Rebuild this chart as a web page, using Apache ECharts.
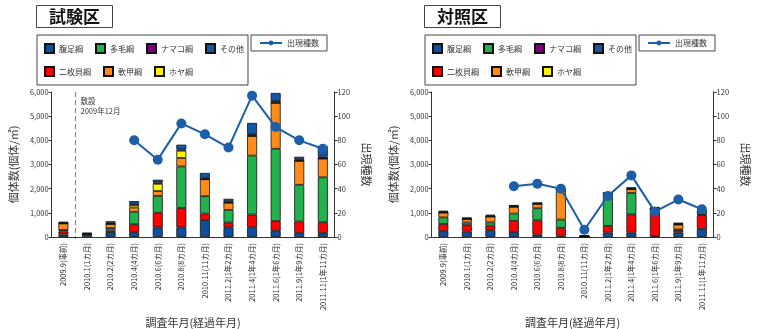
<!DOCTYPE html>
<html>
<head>
<meta charset="utf-8">
<script src="https://cdn.jsdelivr.net/npm/echarts@6/dist/echarts.min.js"></script>
<style>
  body { margin: 0; background: #fff; }
  #left, #right { position: absolute; top: 0; height: 329px; }
  #left { left: 0; width: 380px; }
  #right { left: 380px; width: 379px; }
</style>
</head>
<body>
<div id="left"></div>
<div id="right"></div>
<script>
var categories = ['2009.9(事前)', '2010.1(1カ月)', '2010.2(2カ月)', '2010.4(4カ月)', '2010.6(6カ月)', '2010.8(8カ月)',
  '2010.11(11カ月)', '2011.2(1年2カ月)', '2011.4(1年4カ月)', '2011.6(1年6カ月)', '2011.9(1年9カ月)', '2011.11(1年11カ月)'];

// 試験区
var testFukusoku = [100, 110, 200, 200, 400, 400, 700, 400, 400, 260, 160, 160];
var testNimaigai = [130, 0, 70, 330, 600, 800, 270, 200, 530, 400, 480, 450];
var testTamou = [60, 0, 100, 515, 700, 1720, 720, 520, 2440, 2990, 1520, 1860];
var testNankou = [270, 0, 170, 175, 200, 350, 700, 300, 810, 1900, 990, 775];
var testHoya = [0, 0, 0, 95, 300, 300, 0, 0, 0, 0, 0, 0];
var testNamako = [30, 30, 50, 60, 60, 50, 60, 60, 80, 80, 70, 80];
var testOther = [40, 40, 60, 110, 110, 200, 200, 100, 460, 330, 100, 430];
var testSpecies = [null, null, null, 80, 64, 94, 85, 74, 117, 91, 80, 73];

// 対照区
var ctrlFukusoku = [240, 220, 280, 200, 100, 60, 20, 180, 180, 20, 180, 330];
var ctrlNimaigai = [300, 270, 190, 470, 590, 320, 0, 280, 760, 1150, 100, 580];
var ctrlTamou = [270, 110, 135, 300, 500, 340, 0, 1330, 880, 0, 30, 30];
var ctrlNankou = [200, 140, 240, 280, 180, 1250, 0, 0, 160, 0, 200, 100];
var ctrlHoya = [0, 0, 0, 0, 0, 0, 0, 0, 0, 0, 20, 0];
var ctrlNamako = [40, 40, 40, 40, 30, 0, 30, 30, 40, 40, 30, 30];
var ctrlOther = [30, 20, 30, 30, 20, 20, 20, 20, 30, 30, 20, 30];
var ctrlSpecies = [null, null, null, 42, 44, 40, 6, 34, 51, 21, 31, 23];

var leftTicks = [0, 1000, 2000, 3000, 4000, 5000, 6000];
var rightTicks = [0, 20, 40, 60, 80, 100, 120];

var FONT = '"Noto Sans CJK JP", sans-serif';
var colors = {
  '腹足綱': '#0d4f9e', '二枚貝綱': '#ff0000', '多毛綱': '#22b14c', '軟甲綱': '#ff8c1a',
  'ホヤ綱': '#fff200', 'ナマコ綱': '#7f007f', 'その他': '#1157a6'
};

function comma(v) {
  return String(v).replace(/\B(?=(\d{3})+(?!\d))/g, ',');
}

function bar(name, data) {
  return {
    name: name, type: 'bar', stack: 'a', barWidth: 10, data: data,
    itemStyle: { color: colors[name], borderColor: '#111', borderWidth: 0.8 }
  };
}

function makeOption(title, gridLeft, boxLeft, lineLegLeft, d) {
  return {
    animation: false,
    textStyle: { fontFamily: FONT },
    title: {
      text: title, left: boxLeft - 1, top: 5,
      padding: [3, 13, 3, 13], borderColor: '#444', borderWidth: 1,
      textStyle: { fontSize: 17, fontWeight: 'bold', color: '#111', fontFamily: FONT }
    },
    legend: [{
      data: ['腹足綱', '多毛綱', 'ナマコ綱', 'その他', '二枚貝綱', '軟甲綱', 'ホヤ綱'],
      left: boxLeft, top: 35, width: 211, padding: [8, 4, 8, 7],
      borderColor: '#444', borderWidth: 1, itemGap: 12,
      itemWidth: 9, itemHeight: 9, icon: 'rect',
      textStyle: { fontSize: 8, color: '#333', fontFamily: FONT }
    }, {
      data: ['出現種数'], left: lineLegLeft, top: 35,
      padding: [4, 8, 4, 8], borderColor: '#444', borderWidth: 1,
      itemWidth: 22, itemHeight: 6,
      textStyle: { fontSize: 8, color: '#333', fontFamily: FONT }
    }],
    grid: { left: gridLeft, width: 306, top: 92, bottom: 90 },
    xAxis: {
      type: 'category', data: categories,
      name: '調査年月(経過年月)', nameLocation: 'middle', nameGap: 80,
      nameTextStyle: { fontSize: 11, color: '#333', fontFamily: FONT },
      axisLine: { lineStyle: { color: '#333' } },
      axisTick: { alignWithLabel: false, length: 4, lineStyle: { color: '#333' } },
      axisLabel: { rotate: 90, fontSize: 7.5, color: '#333', margin: 6, interval: 0, fontFamily: FONT }
    },
    yAxis: [{
      type: 'value', min: leftTicks[0], max: leftTicks[leftTicks.length - 1], interval: 1000,
      name: '個体数(個体/㎡)', nameLocation: 'middle', nameRotate: 90, nameGap: 23,
      nameTextStyle: { fontSize: 11, color: '#333', fontFamily: FONT },
      axisLine: { show: true, lineStyle: { color: '#333' } },
      axisTick: { show: true, length: 3, lineStyle: { color: '#333' } },
      splitLine: { show: false },
      axisLabel: { fontSize: 7.5, color: '#333', margin: 3, formatter: comma }
    }, {
      type: 'value', min: rightTicks[0], max: rightTicks[rightTicks.length - 1], interval: 20,
      name: '出現種数', nameLocation: 'middle', nameRotate: -90, nameGap: 24,
      nameTextStyle: { fontSize: 11, color: '#333', fontFamily: FONT },
      axisLine: { show: true, lineStyle: { color: '#333' } },
      axisTick: { show: true, length: 3, lineStyle: { color: '#333' } },
      splitLine: { show: false },
      axisLabel: { fontSize: 7.5, color: '#333', margin: 3 }
    }],
    series: [
      bar('腹足綱', d[0]), bar('二枚貝綱', d[1]), bar('多毛綱', d[2]), bar('軟甲綱', d[3]),
      bar('ホヤ綱', d[4]), bar('ナマコ綱', d[5]), bar('その他', d[6]),
      {
        name: '出現種数', type: 'line', yAxisIndex: 1, data: d[7],
        symbol: 'circle', symbolSize: 10,
        lineStyle: { color: '#1c5ea8', width: 2 },
        itemStyle: { color: '#1c5ea8' }
      }
    ]
  };
}

var leftChart = echarts.init(document.getElementById('left'));
leftChart.setOption(makeOption('試験区', 35, 37, 251,
  [testFukusoku, testNimaigai, testTamou, testNankou, testHoya, testNamako, testOther, testSpecies]));

// 敷設 (2009年12月) marker between the first two surveys
var x0 = leftChart.convertToPixel({ xAxisIndex: 0 }, categories[0]);
var x1 = leftChart.convertToPixel({ xAxisIndex: 0 }, categories[1]);
var xm = Math.round((x0 + x1) / 2) + 0.5;
leftChart.setOption({
  graphic: [{
    type: 'line', shape: { x1: xm, y1: 92, x2: xm, y2: 239 },
    style: { stroke: '#888', lineWidth: 1.2, lineDash: [5, 3] }
  }, {
    type: 'text', left: xm + 5, top: 96,
    style: { text: '敷設\n2009年12月', fontSize: 7.5, lineHeight: 10, fill: '#333', fontFamily: FONT }
  }]
});

var rightChart = echarts.init(document.getElementById('right'));
rightChart.setOption(makeOption('対照区', 43, 45, 259,
  [ctrlFukusoku, ctrlNimaigai, ctrlTamou, ctrlNankou, ctrlHoya, ctrlNamako, ctrlOther, ctrlSpecies]));
</script>
</body>
</html>
